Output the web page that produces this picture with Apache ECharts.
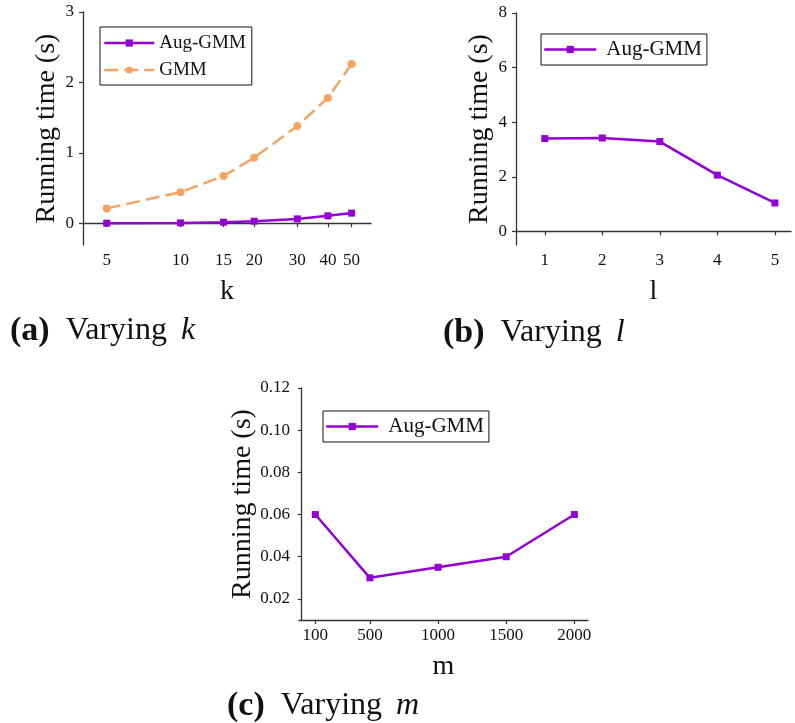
<!DOCTYPE html>
<html>
<head>
<meta charset="utf-8">
<script src="https://cdn.jsdelivr.net/npm/echarts@6/dist/echarts.min.js"></script>
<style>html,body{margin:0;padding:0;background:#fff;}#c{width:795px;height:723px;}</style>
</head>
<body>
<div id="c"></div>
<script>
// ---- data ----
const kValues = [5, 10, 15, 20, 30, 40, 50];
const augGmmByK = [0.0, 0.004, 0.014, 0.028, 0.061, 0.104, 0.143];
const gmmByK = [0.21, 0.44, 0.67, 0.93, 1.38, 1.78, 2.26];
const lValues = [1, 2, 3, 4, 5];
const augGmmByL = [3.40, 3.42, 3.29, 2.06, 1.04];
const mValues = [100, 500, 1000, 1500, 2000];
const augGmmByM = [0.06, 0.03, 0.035, 0.04, 0.06];
// tick labels
const kTicks = [5, 10, 15, 20, 30, 40, 50];
const yTicksA = [0, 1, 2, 3];
const lTicks = [1, 2, 3, 4, 5];
const yTicksB = [0, 2, 4, 6, 8];
const mTicks = [100, 500, 1000, 1500, 2000];
const yTicksC = [0.02, 0.04, 0.06, 0.08, 0.10, 0.12];
const seriesNames = ['Aug-GMM', 'GMM'];
const captions = [['(a)', 'k'], ['(b)', 'l'], ['(c)', 'm']];

const FONT = 'Liberation Serif';
const PURPLE = '#9400D3';
const ORANGE = '#F4A460';
const AXC = '#333';

function pairs(xs, ys) { return xs.map((x, i) => [x, ys[i]]); }

function xAxisBase(gridIndex, type, min, max, ticks, name) {
  return {
    gridIndex, type, min, max, name,
    nameLocation: 'middle', nameGap: 33,
    nameTextStyle: { fontFamily: FONT, fontSize: 28, color: '#111' },
    axisLine: { show: true, lineStyle: { color: AXC, width: 1.3 } },
    axisTick: { show: true, length: 4, inside: false, customValues: ticks, lineStyle: { color: AXC, width: 1.2 } },
    axisLabel: { customValues: ticks, margin: 7, fontFamily: FONT, fontSize: 17, color: '#111', formatter: v => String(v) },
    splitLine: { show: false },
    minorTick: { show: false }
  };
}
function yAxisBase(gridIndex, min, max, ticks, fmt) {
  return {
    gridIndex, type: 'value', min, max, name: 'Running time (s)',
    nameLocation: 'middle', nameGap: 22, nameRotate: 90,
    nameTextStyle: { fontFamily: FONT, fontSize: 28, color: '#111' },
    axisLine: { show: true, lineStyle: { color: AXC, width: 1.3 } },
    axisTick: { show: true, length: 4, inside: false, customValues: ticks, lineStyle: { color: AXC, width: 1.2 } },
    axisLabel: { customValues: ticks, margin: 9, fontFamily: FONT, fontSize: 17, color: '#111', formatter: fmt || (v => String(v)) },
    splitLine: { show: false }
  };
}
function augSeries(xi, yi, data) {
  return {
    name: seriesNames[0], type: 'line', xAxisIndex: xi, yAxisIndex: yi, data,
    symbol: 'rect', symbolSize: 7, color: PURPLE,
    lineStyle: { color: PURPLE, width: 2.5 }, itemStyle: { color: PURPLE },
    animation: false, z: 3
  };
}
function caption(idx, left, top) {
  return {
    text: '{b|' + captions[idx][0] + '}{r|Varying}{i|' + captions[idx][1] + '}',
    left, top, padding: 0,
    textStyle: {
      fontWeight: 'normal',
      rich: {
        b: { fontFamily: FONT, fontSize: 34, fontWeight: 'bold', color: '#111' },
        r: { fontFamily: FONT, fontSize: 32, fontWeight: 'normal', color: '#111', padding: [0, 0, 0, 16] },
        i: { fontFamily: FONT, fontSize: 32, fontWeight: 'normal', fontStyle: 'italic', color: '#111', padding: [0, 0, 0, 14] }
      }
    }
  };
}
function legendBase(left, top, names, fontSize, padding, itemWidth, textPad) {
  return {
    left, top, orient: 'vertical', data: names,
    backgroundColor: '#fff', borderColor: '#111', borderWidth: 1, borderRadius: 0,
    padding, itemWidth, itemHeight: 9, itemGap: 7,
    lineStyle: { width: 2.5 },
    textStyle: { fontFamily: FONT, fontSize, color: '#111', lineHeight: 20, padding: [0, 0, 0, textPad] },
    selectedMode: false
  };
}

const chart = echarts.init(document.getElementById('c'));
chart.setOption({
  animation: false,
  backgroundColor: '#fff',
  grid: [
    { left: 83, top: 12, width: 288, height: 233, outerBoundsMode: 'none', containLabel: false },
    { left: 516, top: 13, width: 275, height: 232, outerBoundsMode: 'none', containLabel: false },
    { left: 299, top: 388, width: 289, height: 232, outerBoundsMode: 'none', containLabel: false }
  ],
  xAxis: [
    Object.assign(xAxisBase(0, 'log', 4, 60, kTicks, 'k'), { logBase: 10 }),
    xAxisBase(1, 'value', 0.5, 5.28, lTicks, 'l'),
    xAxisBase(2, 'value', -20, 2100, mTicks, 'm')
  ],
  yAxis: [
    yAxisBase(0, -0.31, 3, yTicksA),
    yAxisBase(1, -0.5, 8, yTicksB),
    yAxisBase(2, 0.01, 0.12, yTicksC, v => v.toFixed(2))
  ],
  legend: [
    legendBase(100, 27, seriesNames, 19, [6, 6, 5, 3], 50, 0),
    legendBase(541, 34, [seriesNames[0]], 21, [5, 5, 5, 2], 52, 5),
    legendBase(323, 411, [seriesNames[0]], 21, [5, 5, 5, 2], 52, 5)
  ],
  title: [caption(0, 10, 314), caption(1, 443, 316), caption(2, 227, 689)],
  series: [
    augSeries(0, 0, pairs(kValues, augGmmByK)),
    {
      name: seriesNames[1], type: 'line', xAxisIndex: 0, yAxisIndex: 0, data: pairs(kValues, gmmByK),
      symbol: 'circle', symbolSize: 8, color: ORANGE,
      lineStyle: { color: ORANGE, width: 2.5, type: [14, 6] }, itemStyle: { color: ORANGE },
      animation: false, z: 2
    },
    augSeries(1, 1, pairs(lValues, augGmmByL)),
    augSeries(2, 2, pairs(mValues, augGmmByM))
  ]
});
</script>
</body>
</html>
